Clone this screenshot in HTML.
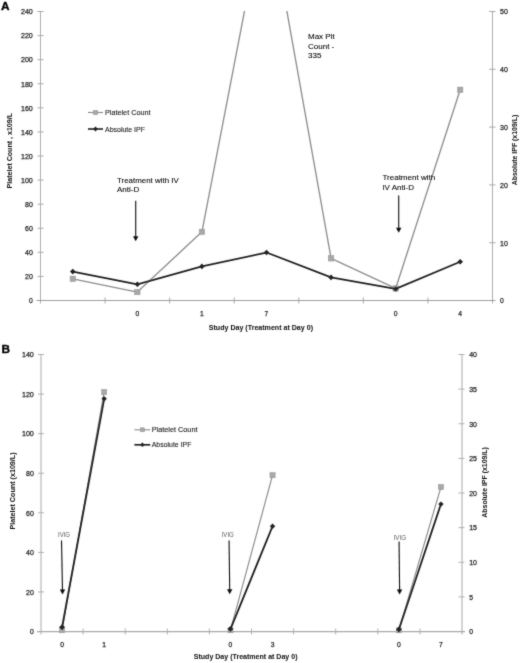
<!DOCTYPE html>
<html><head><meta charset="utf-8"><title>Figure</title>
<style>
html,body{margin:0;padding:0;background:#fff;}
body{width:520px;height:663px;overflow:hidden;font-family:"Liberation Sans",sans-serif;}
svg{display:block;will-change:transform;font-family:"Liberation Sans",sans-serif;}
</style></head><body>
<svg width="520" height="663" viewBox="0 0 520 663">
<defs><filter id="soft" x="0" y="0" width="520" height="663" filterUnits="userSpaceOnUse"><feConvolveMatrix order="3" kernelMatrix="0.25 0.8 0.25 0.8 6 0.8 0.25 0.8 0.25" divisor="10.2" edgeMode="duplicate" preserveAlpha="false"/></filter></defs>
<rect width="520" height="663" fill="#ffffff"/>
<g filter="url(#soft)">
<clipPath id="ca"><rect x="40.5" y="11.0" width="452.0" height="289.0"/></clipPath>
<line x1="40.50" y1="11.50" x2="40.50" y2="303.50" stroke="#adadad" stroke-width="1"/>
<line x1="492.50" y1="11.50" x2="492.50" y2="303.50" stroke="#adadad" stroke-width="1"/>
<line x1="36.50" y1="300.50" x2="495.50" y2="300.50" stroke="#959595" stroke-width="0.9"/>
<text x="29.05" y="303.30" font-size="7.8" text-anchor="start" font-weight="normal" fill="#1c1c1c" textLength="3.75" lengthAdjust="spacingAndGlyphs" stroke="#1c1c1c" stroke-width="0.25" >0</text>
<line x1="37.50" y1="276.42" x2="43.50" y2="276.42" stroke="#a8a8a8" stroke-width="1"/>
<text x="25.00" y="279.22" font-size="7.8" text-anchor="start" font-weight="normal" fill="#1c1c1c" textLength="7.80" lengthAdjust="spacingAndGlyphs" stroke="#1c1c1c" stroke-width="0.25" >20</text>
<line x1="37.50" y1="252.33" x2="43.50" y2="252.33" stroke="#a8a8a8" stroke-width="1"/>
<text x="25.00" y="255.13" font-size="7.8" text-anchor="start" font-weight="normal" fill="#1c1c1c" textLength="7.80" lengthAdjust="spacingAndGlyphs" stroke="#1c1c1c" stroke-width="0.25" >40</text>
<line x1="37.50" y1="228.25" x2="43.50" y2="228.25" stroke="#a8a8a8" stroke-width="1"/>
<text x="25.00" y="231.05" font-size="7.8" text-anchor="start" font-weight="normal" fill="#1c1c1c" textLength="7.80" lengthAdjust="spacingAndGlyphs" stroke="#1c1c1c" stroke-width="0.25" >60</text>
<line x1="37.50" y1="204.17" x2="43.50" y2="204.17" stroke="#a8a8a8" stroke-width="1"/>
<text x="25.00" y="206.97" font-size="7.8" text-anchor="start" font-weight="normal" fill="#1c1c1c" textLength="7.80" lengthAdjust="spacingAndGlyphs" stroke="#1c1c1c" stroke-width="0.25" >80</text>
<line x1="37.50" y1="180.08" x2="43.50" y2="180.08" stroke="#a8a8a8" stroke-width="1"/>
<text x="20.95" y="182.88" font-size="7.8" text-anchor="start" font-weight="normal" fill="#1c1c1c" textLength="11.85" lengthAdjust="spacingAndGlyphs" stroke="#1c1c1c" stroke-width="0.25" >100</text>
<line x1="37.50" y1="156.00" x2="43.50" y2="156.00" stroke="#a8a8a8" stroke-width="1"/>
<text x="20.95" y="158.80" font-size="7.8" text-anchor="start" font-weight="normal" fill="#1c1c1c" textLength="11.85" lengthAdjust="spacingAndGlyphs" stroke="#1c1c1c" stroke-width="0.25" >120</text>
<line x1="37.50" y1="131.92" x2="43.50" y2="131.92" stroke="#a8a8a8" stroke-width="1"/>
<text x="20.95" y="134.72" font-size="7.8" text-anchor="start" font-weight="normal" fill="#1c1c1c" textLength="11.85" lengthAdjust="spacingAndGlyphs" stroke="#1c1c1c" stroke-width="0.25" >140</text>
<line x1="37.50" y1="107.83" x2="43.50" y2="107.83" stroke="#a8a8a8" stroke-width="1"/>
<text x="20.95" y="110.63" font-size="7.8" text-anchor="start" font-weight="normal" fill="#1c1c1c" textLength="11.85" lengthAdjust="spacingAndGlyphs" stroke="#1c1c1c" stroke-width="0.25" >160</text>
<line x1="37.50" y1="83.75" x2="43.50" y2="83.75" stroke="#a8a8a8" stroke-width="1"/>
<text x="20.95" y="86.55" font-size="7.8" text-anchor="start" font-weight="normal" fill="#1c1c1c" textLength="11.85" lengthAdjust="spacingAndGlyphs" stroke="#1c1c1c" stroke-width="0.25" >180</text>
<line x1="37.50" y1="59.67" x2="43.50" y2="59.67" stroke="#a8a8a8" stroke-width="1"/>
<text x="20.95" y="62.47" font-size="7.8" text-anchor="start" font-weight="normal" fill="#1c1c1c" textLength="11.85" lengthAdjust="spacingAndGlyphs" stroke="#1c1c1c" stroke-width="0.25" >200</text>
<line x1="37.50" y1="35.58" x2="43.50" y2="35.58" stroke="#a8a8a8" stroke-width="1"/>
<text x="20.95" y="38.38" font-size="7.8" text-anchor="start" font-weight="normal" fill="#1c1c1c" textLength="11.85" lengthAdjust="spacingAndGlyphs" stroke="#1c1c1c" stroke-width="0.25" >220</text>
<line x1="37.50" y1="11.50" x2="43.50" y2="11.50" stroke="#a8a8a8" stroke-width="1"/>
<text x="20.95" y="14.30" font-size="7.8" text-anchor="start" font-weight="normal" fill="#1c1c1c" textLength="11.85" lengthAdjust="spacingAndGlyphs" stroke="#1c1c1c" stroke-width="0.25" >240</text>
<text x="500.00" y="303.30" font-size="7.8" text-anchor="start" font-weight="normal" fill="#1c1c1c" textLength="3.75" lengthAdjust="spacingAndGlyphs" stroke="#1c1c1c" stroke-width="0.25" >0</text>
<line x1="489.20" y1="242.70" x2="495.50" y2="242.70" stroke="#a8a8a8" stroke-width="1"/>
<text x="500.00" y="245.50" font-size="7.8" text-anchor="start" font-weight="normal" fill="#1c1c1c" textLength="7.80" lengthAdjust="spacingAndGlyphs" stroke="#1c1c1c" stroke-width="0.25" >10</text>
<line x1="489.20" y1="184.90" x2="495.50" y2="184.90" stroke="#a8a8a8" stroke-width="1"/>
<text x="500.00" y="187.70" font-size="7.8" text-anchor="start" font-weight="normal" fill="#1c1c1c" textLength="7.80" lengthAdjust="spacingAndGlyphs" stroke="#1c1c1c" stroke-width="0.25" >20</text>
<line x1="489.20" y1="127.10" x2="495.50" y2="127.10" stroke="#a8a8a8" stroke-width="1"/>
<text x="500.00" y="129.90" font-size="7.8" text-anchor="start" font-weight="normal" fill="#1c1c1c" textLength="7.80" lengthAdjust="spacingAndGlyphs" stroke="#1c1c1c" stroke-width="0.25" >30</text>
<line x1="489.20" y1="69.30" x2="495.50" y2="69.30" stroke="#a8a8a8" stroke-width="1"/>
<text x="500.00" y="72.10" font-size="7.8" text-anchor="start" font-weight="normal" fill="#1c1c1c" textLength="7.80" lengthAdjust="spacingAndGlyphs" stroke="#1c1c1c" stroke-width="0.25" >40</text>
<line x1="489.20" y1="11.50" x2="495.50" y2="11.50" stroke="#a8a8a8" stroke-width="1"/>
<text x="500.00" y="14.30" font-size="7.8" text-anchor="start" font-weight="normal" fill="#1c1c1c" textLength="7.80" lengthAdjust="spacingAndGlyphs" stroke="#1c1c1c" stroke-width="0.25" >50</text>
<line x1="105.07" y1="297.50" x2="105.07" y2="303.50" stroke="#a8a8a8" stroke-width="1"/>
<line x1="169.64" y1="297.50" x2="169.64" y2="303.50" stroke="#a8a8a8" stroke-width="1"/>
<line x1="234.21" y1="297.50" x2="234.21" y2="303.50" stroke="#a8a8a8" stroke-width="1"/>
<line x1="298.79" y1="297.50" x2="298.79" y2="303.50" stroke="#a8a8a8" stroke-width="1"/>
<line x1="363.36" y1="297.50" x2="363.36" y2="303.50" stroke="#a8a8a8" stroke-width="1"/>
<line x1="427.93" y1="297.50" x2="427.93" y2="303.50" stroke="#a8a8a8" stroke-width="1"/>
<text x="135.48" y="315.50" font-size="7.8" text-anchor="start" font-weight="normal" fill="#1c1c1c" textLength="3.75" lengthAdjust="spacingAndGlyphs" stroke="#1c1c1c" stroke-width="0.25" >0</text>
<text x="200.05" y="315.50" font-size="7.8" text-anchor="start" font-weight="normal" fill="#1c1c1c" textLength="3.75" lengthAdjust="spacingAndGlyphs" stroke="#1c1c1c" stroke-width="0.25" >1</text>
<text x="264.62" y="315.50" font-size="7.8" text-anchor="start" font-weight="normal" fill="#1c1c1c" textLength="3.75" lengthAdjust="spacingAndGlyphs" stroke="#1c1c1c" stroke-width="0.25" >7</text>
<text x="393.77" y="315.50" font-size="7.8" text-anchor="start" font-weight="normal" fill="#1c1c1c" textLength="3.75" lengthAdjust="spacingAndGlyphs" stroke="#1c1c1c" stroke-width="0.25" >0</text>
<text x="458.34" y="315.50" font-size="7.8" text-anchor="start" font-weight="normal" fill="#1c1c1c" textLength="3.75" lengthAdjust="spacingAndGlyphs" stroke="#1c1c1c" stroke-width="0.25" >4</text>
<g clip-path="url(#ca)">
<polyline fill="none" stroke="#8e8e8e" stroke-width="1.35" stroke-linejoin="round" stroke-linecap="round" points="72.79,278.82 137.36,292.07 201.93,231.86 266.50,-102.90 331.07,258.35 395.64,288.46 460.21,89.77"/>
</g>
<rect x="70.09" y="276.12" width="5.4" height="5.4" fill="#a8a8a8" stroke="#949494" stroke-width="0.5"/>
<rect x="134.66" y="289.37" width="5.4" height="5.4" fill="#a8a8a8" stroke="#949494" stroke-width="0.5"/>
<rect x="199.23" y="229.16" width="5.4" height="5.4" fill="#a8a8a8" stroke="#949494" stroke-width="0.5"/>
<rect x="328.37" y="255.65" width="5.4" height="5.4" fill="#a8a8a8" stroke="#949494" stroke-width="0.5"/>
<rect x="392.94" y="285.76" width="5.4" height="5.4" fill="#a8a8a8" stroke="#949494" stroke-width="0.5"/>
<rect x="457.51" y="87.07" width="5.4" height="5.4" fill="#a8a8a8" stroke="#949494" stroke-width="0.5"/>
<polyline fill="none" stroke="#242424" stroke-width="1.8" stroke-linejoin="round" stroke-linecap="round" points="72.79,271.60 137.36,284.32 201.93,266.40 266.50,252.53 331.07,277.38 395.64,288.94 460.21,261.77"/>
<polygon points="72.79,268.80 75.59,271.60 72.79,274.40 69.99,271.60" fill="#242424"/>
<polygon points="137.36,281.52 140.16,284.32 137.36,287.12 134.56,284.32" fill="#242424"/>
<polygon points="201.93,263.60 204.73,266.40 201.93,269.20 199.13,266.40" fill="#242424"/>
<polygon points="266.50,249.73 269.30,252.53 266.50,255.33 263.70,252.53" fill="#242424"/>
<polygon points="331.07,274.58 333.87,277.38 331.07,280.18 328.27,277.38" fill="#242424"/>
<polygon points="395.64,286.14 398.44,288.94 395.64,291.74 392.84,288.94" fill="#242424"/>
<polygon points="460.21,258.97 463.01,261.77 460.21,264.57 457.41,261.77" fill="#242424"/>
<line x1="88.00" y1="112.50" x2="103.00" y2="112.50" stroke="#8e8e8e" stroke-width="1.2"/>
<rect x="93.30" y="110.30" width="4.4" height="4.4" fill="#a8a8a8" stroke="#949494" stroke-width="0.5"/>
<text x="105.00" y="115.00" font-size="8" text-anchor="start" font-weight="normal" fill="#1c1c1c" textLength="45.50" lengthAdjust="spacingAndGlyphs" stroke="#1c1c1c" stroke-width="0.12" >Platelet Count</text>
<line x1="88.00" y1="129.00" x2="103.00" y2="129.00" stroke="#242424" stroke-width="1.6"/>
<polygon points="95.50,126.60 97.90,129.00 95.50,131.40 93.10,129.00" fill="#242424"/>
<text x="105.00" y="132.00" font-size="8" text-anchor="start" font-weight="normal" fill="#1c1c1c" textLength="40.00" lengthAdjust="spacingAndGlyphs" stroke="#1c1c1c" stroke-width="0.12" >Absolute IPF</text>
<text x="117.00" y="183.10" font-size="8" text-anchor="start" font-weight="normal" fill="#0a0a0a" textLength="61.75" lengthAdjust="spacingAndGlyphs" stroke="#0a0a0a" stroke-width="0.08" >Treatment with IV</text>
<text x="117.00" y="192.10" font-size="8" text-anchor="start" font-weight="normal" fill="#0a0a0a"  stroke="#0a0a0a" stroke-width="0.08" >Anti-D</text>
<line x1="135.70" y1="200.70" x2="135.70" y2="237.30" stroke="#0c0c0c" stroke-width="1.1"/>
<polygon points="133.00,236.30 138.40,236.30 135.70,241.30" fill="#0c0c0c"/>
<text x="382.40" y="180.00" font-size="8" text-anchor="start" font-weight="normal" fill="#0a0a0a" textLength="52.90" lengthAdjust="spacingAndGlyphs" stroke="#0a0a0a" stroke-width="0.08" >Treatment with</text>
<text x="382.40" y="189.60" font-size="8" text-anchor="start" font-weight="normal" fill="#0a0a0a"  stroke="#0a0a0a" stroke-width="0.08" >IV Anti-D</text>
<line x1="398.70" y1="195.40" x2="398.70" y2="228.70" stroke="#0c0c0c" stroke-width="1.1"/>
<polygon points="396.00,227.70 401.40,227.70 398.70,232.70" fill="#0c0c0c"/>
<text x="308.00" y="39.20" font-size="8" text-anchor="start" font-weight="normal" fill="#0a0a0a"  stroke="#0a0a0a" stroke-width="0.08" >Max Plt</text>
<text x="308.00" y="48.80" font-size="8" text-anchor="start" font-weight="normal" fill="#0a0a0a"  stroke="#0a0a0a" stroke-width="0.08" >Count -</text>
<text x="308.00" y="58.40" font-size="8" text-anchor="start" font-weight="normal" fill="#0a0a0a"  stroke="#0a0a0a" stroke-width="0.08" >335</text>
<text x="208.75" y="329.60" font-size="8" text-anchor="start" font-weight="bold" fill="#0a0a0a" textLength="104.25" lengthAdjust="spacingAndGlyphs"  >Study Day (Treatment at Day 0)</text>
<text x="0.00" y="0.00" font-size="8" text-anchor="start" font-weight="bold" fill="#0a0a0a" textLength="75.40" lengthAdjust="spacingAndGlyphs"  transform="translate(11.6,188.4) rotate(-90)">Platelet Count , x109/L</text>
<text x="0.00" y="0.00" font-size="8" text-anchor="start" font-weight="bold" fill="#0a0a0a" textLength="70.60" lengthAdjust="spacingAndGlyphs"  transform="translate(516.6,185.3) rotate(-90)">Absolute IPF (x109/L)</text>
<text x="0.90" y="9.50" font-size="11.8" text-anchor="start" font-weight="bold" fill="#000"  stroke="#000" stroke-width="0.35" >A</text>
<line x1="41.00" y1="354.50" x2="41.00" y2="634.50" stroke="#a8a8a8" stroke-width="1"/>
<line x1="462.00" y1="354.50" x2="462.00" y2="634.50" stroke="#a8a8a8" stroke-width="1"/>
<line x1="37.00" y1="631.60" x2="465.00" y2="631.60" stroke="#a8a8a8" stroke-width="1.2"/>
<text x="30.05" y="634.30" font-size="7.6" text-anchor="start" font-weight="normal" fill="#1c1c1c" textLength="3.75" lengthAdjust="spacingAndGlyphs" stroke="#1c1c1c" stroke-width="0.25" >0</text>
<line x1="38.00" y1="591.93" x2="44.00" y2="591.93" stroke="#b0b0b0" stroke-width="1"/>
<text x="26.00" y="594.73" font-size="7.6" text-anchor="start" font-weight="normal" fill="#1c1c1c" textLength="7.80" lengthAdjust="spacingAndGlyphs" stroke="#1c1c1c" stroke-width="0.25" >20</text>
<line x1="38.00" y1="552.36" x2="44.00" y2="552.36" stroke="#b0b0b0" stroke-width="1"/>
<text x="26.00" y="555.16" font-size="7.6" text-anchor="start" font-weight="normal" fill="#1c1c1c" textLength="7.80" lengthAdjust="spacingAndGlyphs" stroke="#1c1c1c" stroke-width="0.25" >40</text>
<line x1="38.00" y1="512.79" x2="44.00" y2="512.79" stroke="#b0b0b0" stroke-width="1"/>
<text x="26.00" y="515.59" font-size="7.6" text-anchor="start" font-weight="normal" fill="#1c1c1c" textLength="7.80" lengthAdjust="spacingAndGlyphs" stroke="#1c1c1c" stroke-width="0.25" >60</text>
<line x1="38.00" y1="473.21" x2="44.00" y2="473.21" stroke="#b0b0b0" stroke-width="1"/>
<text x="26.00" y="476.01" font-size="7.6" text-anchor="start" font-weight="normal" fill="#1c1c1c" textLength="7.80" lengthAdjust="spacingAndGlyphs" stroke="#1c1c1c" stroke-width="0.25" >80</text>
<line x1="38.00" y1="433.64" x2="44.00" y2="433.64" stroke="#b0b0b0" stroke-width="1"/>
<text x="21.95" y="436.44" font-size="7.6" text-anchor="start" font-weight="normal" fill="#1c1c1c" textLength="11.85" lengthAdjust="spacingAndGlyphs" stroke="#1c1c1c" stroke-width="0.25" >100</text>
<line x1="38.00" y1="394.07" x2="44.00" y2="394.07" stroke="#b0b0b0" stroke-width="1"/>
<text x="21.95" y="396.87" font-size="7.6" text-anchor="start" font-weight="normal" fill="#1c1c1c" textLength="11.85" lengthAdjust="spacingAndGlyphs" stroke="#1c1c1c" stroke-width="0.25" >120</text>
<line x1="38.00" y1="354.50" x2="44.00" y2="354.50" stroke="#b0b0b0" stroke-width="1"/>
<text x="21.95" y="357.30" font-size="7.6" text-anchor="start" font-weight="normal" fill="#1c1c1c" textLength="11.85" lengthAdjust="spacingAndGlyphs" stroke="#1c1c1c" stroke-width="0.25" >140</text>
<text x="469.20" y="634.30" font-size="7.6" text-anchor="start" font-weight="normal" fill="#1c1c1c" textLength="3.75" lengthAdjust="spacingAndGlyphs" stroke="#1c1c1c" stroke-width="0.25" >0</text>
<line x1="458.50" y1="596.88" x2="464.50" y2="596.88" stroke="#b0b0b0" stroke-width="1"/>
<text x="469.20" y="599.67" font-size="7.6" text-anchor="start" font-weight="normal" fill="#1c1c1c" textLength="3.75" lengthAdjust="spacingAndGlyphs" stroke="#1c1c1c" stroke-width="0.25" >5</text>
<line x1="458.50" y1="562.25" x2="464.50" y2="562.25" stroke="#b0b0b0" stroke-width="1"/>
<text x="469.20" y="565.05" font-size="7.6" text-anchor="start" font-weight="normal" fill="#1c1c1c" textLength="7.80" lengthAdjust="spacingAndGlyphs" stroke="#1c1c1c" stroke-width="0.25" >10</text>
<line x1="458.50" y1="527.62" x2="464.50" y2="527.62" stroke="#b0b0b0" stroke-width="1"/>
<text x="469.20" y="530.42" font-size="7.6" text-anchor="start" font-weight="normal" fill="#1c1c1c" textLength="7.80" lengthAdjust="spacingAndGlyphs" stroke="#1c1c1c" stroke-width="0.25" >15</text>
<line x1="458.50" y1="493.00" x2="464.50" y2="493.00" stroke="#b0b0b0" stroke-width="1"/>
<text x="469.20" y="495.80" font-size="7.6" text-anchor="start" font-weight="normal" fill="#1c1c1c" textLength="7.80" lengthAdjust="spacingAndGlyphs" stroke="#1c1c1c" stroke-width="0.25" >20</text>
<line x1="458.50" y1="458.38" x2="464.50" y2="458.38" stroke="#b0b0b0" stroke-width="1"/>
<text x="469.20" y="461.18" font-size="7.6" text-anchor="start" font-weight="normal" fill="#1c1c1c" textLength="7.80" lengthAdjust="spacingAndGlyphs" stroke="#1c1c1c" stroke-width="0.25" >25</text>
<line x1="458.50" y1="423.75" x2="464.50" y2="423.75" stroke="#b0b0b0" stroke-width="1"/>
<text x="469.20" y="426.55" font-size="7.6" text-anchor="start" font-weight="normal" fill="#1c1c1c" textLength="7.80" lengthAdjust="spacingAndGlyphs" stroke="#1c1c1c" stroke-width="0.25" >30</text>
<line x1="458.50" y1="389.12" x2="464.50" y2="389.12" stroke="#b0b0b0" stroke-width="1"/>
<text x="469.20" y="391.93" font-size="7.6" text-anchor="start" font-weight="normal" fill="#1c1c1c" textLength="7.80" lengthAdjust="spacingAndGlyphs" stroke="#1c1c1c" stroke-width="0.25" >35</text>
<line x1="458.50" y1="354.50" x2="464.50" y2="354.50" stroke="#b0b0b0" stroke-width="1"/>
<text x="469.20" y="357.30" font-size="7.6" text-anchor="start" font-weight="normal" fill="#1c1c1c" textLength="7.80" lengthAdjust="spacingAndGlyphs" stroke="#1c1c1c" stroke-width="0.25" >40</text>
<line x1="83.10" y1="628.50" x2="83.10" y2="634.50" stroke="#b0b0b0" stroke-width="1"/>
<line x1="125.20" y1="628.50" x2="125.20" y2="634.50" stroke="#b0b0b0" stroke-width="1"/>
<line x1="167.30" y1="628.50" x2="167.30" y2="634.50" stroke="#b0b0b0" stroke-width="1"/>
<line x1="209.40" y1="628.50" x2="209.40" y2="634.50" stroke="#b0b0b0" stroke-width="1"/>
<line x1="251.50" y1="628.50" x2="251.50" y2="634.50" stroke="#b0b0b0" stroke-width="1"/>
<line x1="293.60" y1="628.50" x2="293.60" y2="634.50" stroke="#b0b0b0" stroke-width="1"/>
<line x1="335.70" y1="628.50" x2="335.70" y2="634.50" stroke="#b0b0b0" stroke-width="1"/>
<line x1="377.80" y1="628.50" x2="377.80" y2="634.50" stroke="#b0b0b0" stroke-width="1"/>
<line x1="419.90" y1="628.50" x2="419.90" y2="634.50" stroke="#b0b0b0" stroke-width="1"/>
<text x="60.17" y="646.80" font-size="7.6" text-anchor="start" font-weight="normal" fill="#1c1c1c" textLength="3.75" lengthAdjust="spacingAndGlyphs" stroke="#1c1c1c" stroke-width="0.25" >0</text>
<text x="102.28" y="646.80" font-size="7.6" text-anchor="start" font-weight="normal" fill="#1c1c1c" textLength="3.75" lengthAdjust="spacingAndGlyphs" stroke="#1c1c1c" stroke-width="0.25" >1</text>
<text x="228.58" y="646.80" font-size="7.6" text-anchor="start" font-weight="normal" fill="#1c1c1c" textLength="3.75" lengthAdjust="spacingAndGlyphs" stroke="#1c1c1c" stroke-width="0.25" >0</text>
<text x="270.68" y="646.80" font-size="7.6" text-anchor="start" font-weight="normal" fill="#1c1c1c" textLength="3.75" lengthAdjust="spacingAndGlyphs" stroke="#1c1c1c" stroke-width="0.25" >3</text>
<text x="396.98" y="646.80" font-size="7.6" text-anchor="start" font-weight="normal" fill="#1c1c1c" textLength="3.75" lengthAdjust="spacingAndGlyphs" stroke="#1c1c1c" stroke-width="0.25" >0</text>
<text x="439.07" y="646.80" font-size="7.6" text-anchor="start" font-weight="normal" fill="#1c1c1c" textLength="3.75" lengthAdjust="spacingAndGlyphs" stroke="#1c1c1c" stroke-width="0.25" >7</text>
<polyline fill="none" stroke="#8e8e8e" stroke-width="1.2" stroke-linejoin="round" stroke-linecap="round" points="62.05,630.31 104.15,392.09"/>
<rect x="59.55" y="627.81" width="5" height="5" fill="#a8a8a8" stroke="#949494" stroke-width="0.5"/>
<rect x="101.55" y="389.49" width="5.2" height="5.2" fill="#a8a8a8" stroke="#949494" stroke-width="0.5"/>
<polyline fill="none" stroke="#242424" stroke-width="1.85" stroke-linejoin="round" stroke-linecap="round" points="62.05,627.35 104.15,398.82"/>
<polygon points="62.05,624.35 65.05,627.35 62.05,630.35 59.05,627.35" fill="#242424"/>
<polygon points="104.15,396.12 106.85,398.82 104.15,401.52 101.45,398.82" fill="#242424"/>
<polyline fill="none" stroke="#8e8e8e" stroke-width="1.2" stroke-linejoin="round" stroke-linecap="round" points="230.45,630.31 272.55,475.19"/>
<rect x="227.95" y="627.81" width="5" height="5" fill="#a8a8a8" stroke="#949494" stroke-width="0.5"/>
<rect x="269.95" y="472.59" width="5.2" height="5.2" fill="#a8a8a8" stroke="#949494" stroke-width="0.5"/>
<polyline fill="none" stroke="#242424" stroke-width="1.85" stroke-linejoin="round" stroke-linecap="round" points="230.45,629.08 272.55,526.24"/>
<polygon points="230.45,626.08 233.45,629.08 230.45,632.08 227.45,629.08" fill="#242424"/>
<polygon points="272.55,523.54 275.25,526.24 272.55,528.94 269.85,526.24" fill="#242424"/>
<polyline fill="none" stroke="#8e8e8e" stroke-width="1.2" stroke-linejoin="round" stroke-linecap="round" points="398.85,630.31 440.95,487.06"/>
<rect x="396.35" y="627.81" width="5" height="5" fill="#a8a8a8" stroke="#949494" stroke-width="0.5"/>
<rect x="438.35" y="484.46" width="5.2" height="5.2" fill="#a8a8a8" stroke="#949494" stroke-width="0.5"/>
<polyline fill="none" stroke="#242424" stroke-width="1.85" stroke-linejoin="round" stroke-linecap="round" points="398.85,629.42 440.95,504.08"/>
<polygon points="398.85,626.42 401.85,629.42 398.85,632.42 395.85,629.42" fill="#242424"/>
<polygon points="440.95,501.38 443.65,504.08 440.95,506.78 438.25,504.08" fill="#242424"/>
<line x1="134.40" y1="429.80" x2="150.20" y2="429.80" stroke="#8e8e8e" stroke-width="1.1"/>
<rect x="140.40" y="427.80" width="4" height="4" fill="#a8a8a8" stroke="#949494" stroke-width="0.5"/>
<text x="151.70" y="432.30" font-size="8" text-anchor="start" font-weight="normal" fill="#1c1c1c" textLength="45.80" lengthAdjust="spacingAndGlyphs" stroke="#1c1c1c" stroke-width="0.12" >Platelet Count</text>
<line x1="134.40" y1="444.80" x2="150.20" y2="444.80" stroke="#242424" stroke-width="1.7"/>
<polygon points="142.40,442.50 144.70,444.80 142.40,447.10 140.10,444.80" fill="#242424"/>
<text x="151.70" y="447.10" font-size="8" text-anchor="start" font-weight="normal" fill="#1c1c1c" textLength="39.80" lengthAdjust="spacingAndGlyphs" stroke="#1c1c1c" stroke-width="0.12" >Absolute IPF</text>
<text x="58.00" y="537.00" font-size="7" text-anchor="start" font-weight="normal" fill="#5a5a5a" textLength="12.00" lengthAdjust="spacingAndGlyphs"  >IVIG</text>
<line x1="61.50" y1="540.50" x2="62.50" y2="590.50" stroke="#0c0c0c" stroke-width="1.1"/>
<polygon points="59.80,589.50 65.20,589.50 62.50,594.50" fill="#0c0c0c"/>
<text x="221.70" y="536.90" font-size="7" text-anchor="start" font-weight="normal" fill="#5a5a5a" textLength="12.10" lengthAdjust="spacingAndGlyphs"  >IVIG</text>
<line x1="229.10" y1="540.50" x2="229.70" y2="590.30" stroke="#0c0c0c" stroke-width="1.1"/>
<polygon points="227.00,589.30 232.40,589.30 229.70,594.30" fill="#0c0c0c"/>
<text x="393.60" y="539.60" font-size="7" text-anchor="start" font-weight="normal" fill="#5a5a5a" textLength="12.50" lengthAdjust="spacingAndGlyphs"  >IVIG</text>
<line x1="399.10" y1="541.50" x2="399.60" y2="590.50" stroke="#0c0c0c" stroke-width="1.1"/>
<polygon points="396.90,589.50 402.30,589.50 399.60,594.50" fill="#0c0c0c"/>
<text x="193.75" y="658.75" font-size="8" text-anchor="start" font-weight="bold" fill="#0a0a0a" textLength="103.75" lengthAdjust="spacingAndGlyphs"  >Study Day (Treatment at Day 0)</text>
<text x="0.00" y="0.00" font-size="8" text-anchor="start" font-weight="bold" fill="#0a0a0a" textLength="77.20" lengthAdjust="spacingAndGlyphs"  transform="translate(15.3,529.6) rotate(-90)">Platelet Count (x109/L)</text>
<text x="0.00" y="0.00" font-size="8" text-anchor="start" font-weight="bold" fill="#0a0a0a" textLength="70.60" lengthAdjust="spacingAndGlyphs"  transform="translate(486.7,517.7) rotate(-90)">Absolute IPF (x109/L)</text>
<text x="1.50" y="352.50" font-size="11.8" text-anchor="start" font-weight="bold" fill="#000"  stroke="#000" stroke-width="0.35" >B</text>
</g>
</svg>
</body></html>
